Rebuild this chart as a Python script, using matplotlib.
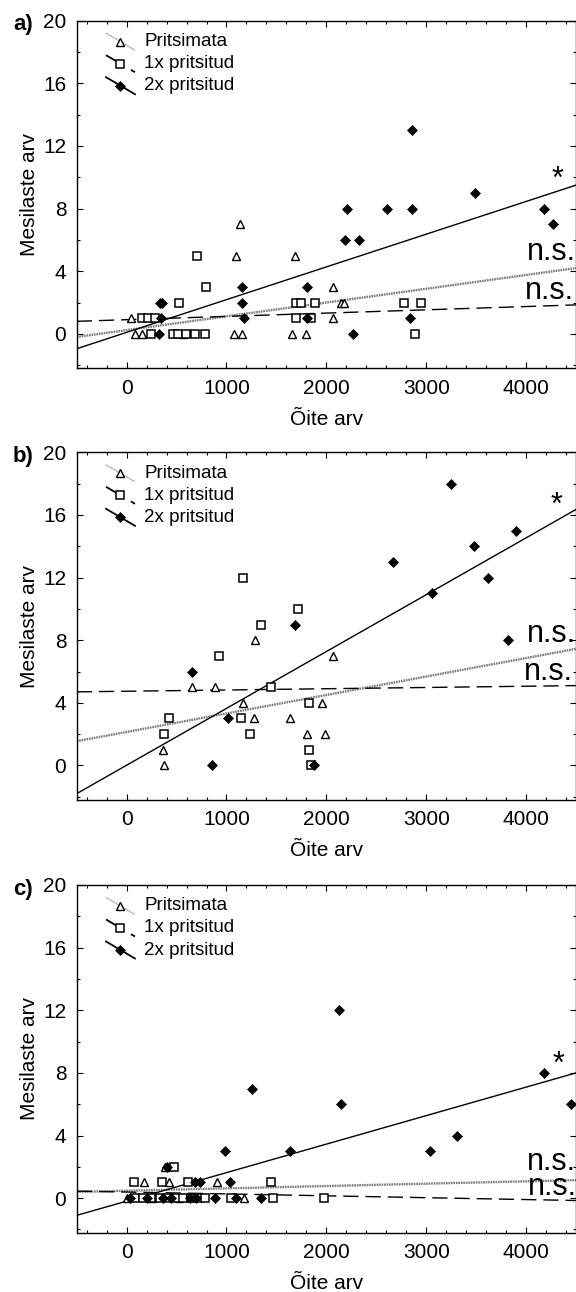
import numpy as np
import matplotlib
matplotlib.use('Agg')
import matplotlib.pyplot as plt
from matplotlib.ticker import MultipleLocator

plt.rcParams['font.family'] = ['Liberation Sans', 'DejaVu Sans']

# Ühine x-vahemik regressioonijoonte jaoks
FIT_X = [-500, 4500]

# a) paneel
A_TRI_X = [48, 83, 150, 560, 1080, 1156, 1100, 1136, 1655, 1686, 1795, 2063, 2063, 2144, 2180]
A_TRI_Y = [1, 0, 0, 0, 0, 0, 5, 7, 0, 5, 0, 3, 1, 2, 2]
A_SQ_X = [150, 216, 282, 249, 465, 515, 598, 681, 781, 524, 704, 799,
          1697, 1748, 1888, 1697, 1851, 2779, 2951, 2889]
A_SQ_Y = [1, 1, 1, 0, 0, 0, 0, 0, 0, 2, 5, 3, 2, 2, 2, 1, 1, 2, 2, 0]
A_DIA_X = [325, 332, 355, 349, 1156, 1156, 1180, 1807, 1807, 2188, 2210, 2328,
           2265, 2612, 2834, 2860, 2860, 3485, 4183, 4273]
A_DIA_Y = [0, 2, 2, 1, 2, 3, 1, 3, 1, 6, 8, 6, 0, 8, 1, 8, 13, 9, 8, 7]
A_FIT_TRI = [-0.2, 4.2]
A_FIT_SQ = [0.8, 1.85]
A_FIT_DIA = [-0.95, 9.5]

# b) paneel
B_TRI_X = [363, 374, 652, 880, 1169, 1272, 1290, 1631, 1807, 1983, 1954, 2064]
B_TRI_Y = [1, 0, 5, 5, 4, 3, 8, 3, 2, 2, 4, 7]
B_SQ_X = [1166, 1349, 1712, 920, 422, 374, 1448, 1144, 1235, 1822, 1822, 1844]
B_SQ_Y = [12, 9, 10, 7, 3, 2, 5, 3, 2, 4, 1, 0]
B_DIA_X = [3244, 2665, 3061, 3475, 3622, 3904, 3820, 1686, 652, 1015, 854, 1877]
B_DIA_Y = [18, 13, 11, 14, 12, 15, 8, 9, 6, 3, 0, 0]
B_FIT_TRI = [1.55, 7.45]
B_FIT_SQ = [4.7, 5.1]
B_FIT_DIA = [-1.8, 16.35]

# c) paneel
C_TRI_X = [0, 250, 520, 1180, 173, 425, 903, 382]
C_TRI_Y = [0, 0, 0, 0, 1, 1, 1, 2]
C_SQ_X = [83, 166, 249, 332, 415, 498, 565, 648, 714, 781, 1047, 1462, 1980,
          73, 359, 614, 1446, 472]
C_SQ_Y = [0, 0, 0, 0, 0, 0, 0, 0, 0, 0, 0, 0, 0, 1, 1, 1, 1, 2]
C_DIA_X = [33, 199, 365, 449, 631, 698, 880, 1097, 1346, 681, 731, 1037, 405,
           990, 1631, 1257, 2144, 2126, 3035, 3310, 4183, 4447]
C_DIA_Y = [0, 0, 0, 0, 0, 0, 0, 0, 0, 1, 1, 1, 2,
           3, 3, 7, 6, 12, 3, 4, 8, 6]
C_FIT_TRI = [0.4, 1.15]
C_FIT_SQ = [0.45, -0.15]
C_FIT_DIA = [-1.1, 8.0]

# Märgendid: (x, y) tärni ja kahe "n.s." jaoks
A_STAR = (4313, 10.45)
A_NS = [(4011, 5.25), (3990, 2.76)]
B_STAR = (4307, 17.2)
B_NS = [(4014, 8.39), (3981, 5.96)]
C_STAR = (4323, 9.12)
C_NS = [(4014, 2.3), (4020, 0.72)]

LEGEND_LABELS = ['Pritsimata', '1x pritsitud', '2x pritsitud']

STYLE_TRI = dict(marker='^', ms=6.3, mfc='white', mec='black', mew=1.0, ls='none')
STYLE_SQ = dict(marker='s', ms=5.8, mfc='white', mec='black', mew=1.1, ls='none')
STYLE_DIA = dict(marker='D', ms=5.2, mfc='black', mec='black', mew=0.5, ls='none')
LINE_TRI = dict(color='#7a7a7a', lw=1.7, ls=(0, (0.7, 0.35)))
LINE_SQ = dict(color='black', lw=1.0, ls=(0, (11, 5)))
LINE_DIA = dict(color='black', lw=1.0, ls='-')

FS = 15
FS_ANN = 22

AX_LEFT = 76.7 / 576
AX_W = 1 - AX_LEFT
AX_H = 347.6 / 1292
AX_TOPS = [20.7, 452.3, 885.0]


def draw_legend(ax):
    y0 = 0.9396
    step = 0.0633
    mx = 0.0877
    dx, dy = 0.029, 0.0245
    for i, (lbl, mst, lst) in enumerate(zip(LEGEND_LABELS,
                                             [STYLE_TRI, STYLE_SQ, STYLE_DIA],
                                             [LINE_TRI, LINE_SQ, LINE_DIA])):
        y = y0 - i * step
        lw = dict(lst)
        if i == 0:
            lw['lw'] = 1.0
            lw['color'] = '#999999'
        else:
            lw['lw'] = 1.3
        ax.plot([mx - dx, mx + dx], [y + dy, y - dy], transform=ax.transAxes,
                clip_on=False, **lw)
        ms = dict(mst)
        ms['ms'] = mst['ms'] * 0.9
        ax.plot([mx], [y], transform=ax.transAxes, clip_on=False, **ms)
        ax.text(0.135, y, lbl, transform=ax.transAxes, fontsize=13.5,
                va='center', ha='left')


def draw_panel(ax, letter, tri, sq, dia, fits, star, ns):
    ax.plot(FIT_X, fits[0], **LINE_TRI)
    ax.plot(FIT_X, fits[1], **LINE_SQ)
    ax.plot(FIT_X, fits[2], **LINE_DIA)
    ax.plot(tri[0], tri[1], **STYLE_TRI)
    ax.plot(sq[0], sq[1], **STYLE_SQ)
    ax.plot(dia[0], dia[1], **STYLE_DIA)

    ax.set_xlim(-500, 4500)
    ax.set_ylim(-2.2, 20)
    ax.xaxis.set_major_locator(MultipleLocator(1000))
    ax.xaxis.set_minor_locator(MultipleLocator(200))
    ax.yaxis.set_major_locator(MultipleLocator(4))
    ax.yaxis.set_minor_locator(MultipleLocator(2))
    ax.tick_params(which='both', direction='in', top=True, right=True,
                   labelsize=FS, width=0.8)
    ax.tick_params(which='major', length=4, pad=7.5)
    ax.tick_params(which='minor', length=2.5)
    for sp in ax.spines.values():
        sp.set_linewidth(1.0)

    ax.set_xlabel('Õite arv', fontsize=FS, labelpad=8.5)
    ax.set_ylabel('Mesilaste arv', fontsize=FS, labelpad=3)

    ax.annotate('*', star, xytext=(0, -0.575 * FS_ANN), textcoords='offset points',
                ha='center', va='baseline', fontsize=FS_ANN)
    for (x, y) in ns:
        ax.text(x, y, 'n.s.', fontsize=FS_ANN, ha='left', va='center')

    ax.text(-0.1276, 0.988, letter, transform=ax.transAxes, fontsize=16,
            fontweight='bold', ha='left', va='center')
    draw_legend(ax)


fig = plt.figure(figsize=(5.76, 12.92), dpi=100)
panels = [
    ('a)', (A_TRI_X, A_TRI_Y), (A_SQ_X, A_SQ_Y), (A_DIA_X, A_DIA_Y),
     (A_FIT_TRI, A_FIT_SQ, A_FIT_DIA), A_STAR, A_NS),
    ('b)', (B_TRI_X, B_TRI_Y), (B_SQ_X, B_SQ_Y), (B_DIA_X, B_DIA_Y),
     (B_FIT_TRI, B_FIT_SQ, B_FIT_DIA), B_STAR, B_NS),
    ('c)', (C_TRI_X, C_TRI_Y), (C_SQ_X, C_SQ_Y), (C_DIA_X, C_DIA_Y),
     (C_FIT_TRI, C_FIT_SQ, C_FIT_DIA), C_STAR, C_NS),
]
for top, p in zip(AX_TOPS, panels):
    bottom = 1 - (top + 347.6) / 1292
    ax = fig.add_axes([AX_LEFT, bottom, AX_W, AX_H])
    draw_panel(ax, *p)

fig.savefig('out.png', dpi=100)
